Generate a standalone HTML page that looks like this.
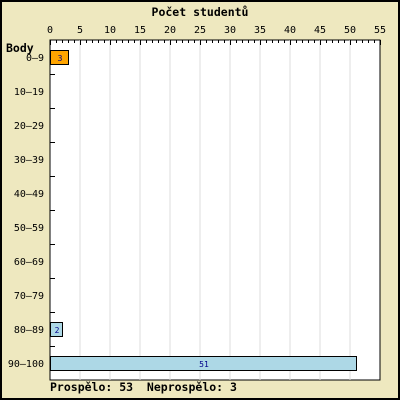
<!DOCTYPE html>
<html><head><meta charset="utf-8"><style>
html,body{margin:0;padding:0;background:#eee8bf}
svg{display:block;font-family:"DejaVu Sans Mono","Liberation Mono",monospace}
</style></head><body>
<svg id="c" width="400" height="400" xmlns="http://www.w3.org/2000/svg">
<rect x="1" y="1" width="398" height="398" fill="#eee8bf" stroke="#000" stroke-width="2"/>
<text x="200" y="16" text-anchor="middle" font-size="11.5" font-weight="bold">Počet studentů</text>
<text x="6" y="52" font-size="11.5" font-weight="bold">Body</text>
<rect x="50" y="40" width="330" height="340" fill="#fff" stroke="#000"/>
<g id="g"></g>
<text x="50" y="391" font-size="11.5" font-weight="bold" style="white-space:pre" xml:space="preserve">Prospělo: 53  Neprospělo: 3</text>
</svg>
<script>
const categories=["0-9","10-19","20-29","30-39","40-49","50-59","60-69","70-79","80-89","90-100"];
const values=[3,0,0,0,0,0,0,0,2,51];
const xTicks=[0,5,10,15,20,25,30,35,40,45,50,55];
const x0=50,x1=380,y0=40,y1=380,xMax=55;
const xs=v=>x0+v*(x1-x0)/xMax;
const rowH=(y1-y0)/categories.length;
const g=document.getElementById('g');const NS="http://www.w3.org/2000/svg";
function mk(t,a){const e=document.createElementNS(NS,t);for(const k in a)e.setAttribute(k,a[k]);g.appendChild(e);return e;}
xTicks.forEach(t=>{
  if(t>0&&t<xMax){const l=mk('line',{x1:xs(t),x2:xs(t),y1:y0,y2:y1,stroke:'#ddd'});
  
  }
  const tx=mk('text',{x:xs(t),y:33,'text-anchor':'middle','font-size':10});tx.textContent=t;
  
  
});
for(let v=0;v<=xMax;v++){const big=v%5===0;const l=mk('line',{x1:xs(v)+0.5,x2:xs(v)+0.5,y1:y0,y2:y0+(big?5:3),stroke:'#000'});
  
  }
categories.forEach((c,i)=>{
  const yc=y0+rowH*(i+0.5);
  const lb=mk('text',{x:44,y:yc+4,'text-anchor':'end','font-size':10});lb.textContent=c.replace('-','–');
  
  
  if(i>0){const t=mk('line',{x1:x0,x2:x0+5,y1:y0+rowH*i+0.5,y2:y0+rowH*i+0.5,stroke:'#000'});
  
  }
  const v=values[i];
  if(v>0){
    const b=mk('rect',{x:x0+0.5,y:yc-6.5,width:xs(v)-x0,height:14,fill:i<1?'#ffa500':'#add8e6',stroke:'#000'});
    
    
    const t=mk('text',{x:(x0+xs(v))/2+1,y:yc+4,'text-anchor':'middle','font-size':8,fill:'#00008b'});t.textContent=v;
    
    
  }
});
</script>
</body></html>
